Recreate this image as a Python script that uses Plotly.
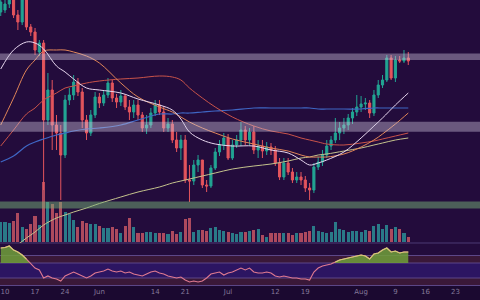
import plotly.graph_objects as go
import pandas as pd

# ---------------- data ----------------
dates = pd.date_range("2021-05-09", "2021-08-12", freq="D")

opens = [3480, 3500, 3560, 3650, 3450, 3380, 3600, 3330, 3280, 3080, 3170, 2400, 2700, 2350, 2270, 2050,
         2600, 2650, 2780, 2680, 2400, 2270, 2450, 2630, 2570, 2650, 2770, 2620, 2580, 2640, 2530, 2480,
         2550, 2450, 2320, 2350, 2470, 2550, 2480, 2320, 2360, 2200, 2120, 2200, 1800, 1790, 1950, 2000,
         1750, 1740, 1920, 2080, 2150, 2220, 2020, 2150, 2200, 2300, 2200, 2280, 2100, 2140, 2090, 2130,
         2100, 1970, 1830, 1970, 1880, 1800, 1830, 1800, 1720, 1700, 1930, 1980, 2050, 2140, 2200, 2270,
         2320, 2350, 2420, 2480, 2530, 2560, 2570, 2470, 2650, 2750, 2800, 3020, 2820, 3000, 2990, 3020]
closes = [3580, 3560, 3650, 3450, 3380, 3600, 3330, 3280, 3100, 3170, 2400, 2700, 2350, 2270, 2050, 2600,
          2650, 2780, 2680, 2400, 2270, 2450, 2630, 2570, 2650, 2770, 2620, 2580, 2640, 2530, 2480, 2550,
          2450, 2320, 2350, 2470, 2550, 2480, 2320, 2360, 2200, 2120, 2200, 1800, 1790, 1950, 2000, 1750,
          1740, 1920, 2080, 2150, 2220, 2020, 2150, 2200, 2300, 2200, 2280, 2100, 2140, 2090, 2130, 2100,
          1970, 1830, 1970, 1880, 1800, 1830, 1800, 1720, 1700, 1930, 1980, 2050, 2140, 2200, 2270, 2320,
          2350, 2420, 2480, 2530, 2560, 2570, 2470, 2650, 2750, 2800, 3020, 2820, 3000, 2990, 3020, 2990]
highs = [3600, 3600, 3700, 3720, 3500, 3650, 3630, 3360, 3320, 3200, 3200, 2870, 2800, 2450, 2350, 2650,
         2720, 2850, 2820, 2720, 2450, 2500, 2680, 2670, 2700, 2820, 2800, 2660, 2700, 2660, 2600, 2600,
         2600, 2480, 2450, 2520, 2600, 2600, 2540, 2420, 2400, 2280, 2250, 2250, 1950, 2000, 2050, 2000,
         1800, 1950, 2120, 2200, 2270, 2260, 2200, 2250, 2380, 2340, 2320, 2340, 2200, 2200, 2180, 2170,
         2140, 2020, 2020, 2020, 1920, 1880, 1880, 1840, 1770, 1970, 2030, 2100, 2200, 2240, 2420, 2380,
         2420, 2460, 2520, 2650, 2640, 2620, 2600, 2700, 2800, 2850, 3050, 3050, 3040, 3040, 3100, 3080]
lows = [3440, 3470, 3520, 3420, 3300, 3350, 3300, 3240, 3050, 3040, 1700, 2350, 2100, 2100, 1600, 2020,
        2550, 2600, 2640, 2320, 2200, 2240, 2420, 2520, 2540, 2620, 2580, 2520, 2540, 2500, 2400, 2420,
        2400, 2280, 2260, 2320, 2440, 2450, 2280, 2280, 2170, 2080, 2000, 1770, 1580, 1750, 1880, 1720,
        1680, 1720, 1900, 2040, 2100, 2000, 2000, 2120, 2140, 2150, 2150, 2060, 2020, 2020, 2050, 2050,
        1940, 1800, 1800, 1850, 1770, 1770, 1750, 1680, 1600, 1670, 1900, 1940, 2020, 2100, 2170, 2200,
        2260, 2300, 2360, 2440, 2480, 2500, 2420, 2440, 2620, 2720, 2780, 2800, 2780, 2970, 2970, 2950]
volumes = [1000, 1000, 950, 1050, 1450, 750, 650, 900, 1300, 850, 3000, 2000, 1900, 1450, 2000, 1500,
           1400, 1100, 750, 1050, 950, 900, 900, 800, 700, 700, 750, 650, 450, 800, 1200, 750,
           450, 450, 500, 500, 450, 450, 450, 400, 550, 400, 500, 1150, 1200, 500, 600, 600,
           550, 700, 750, 600, 550, 500, 450, 400, 500, 500, 550, 600, 650, 350, 250, 450,
           450, 450, 450, 450, 350, 450, 450, 500, 550, 800, 550, 500, 450, 500, 1000, 650,
           600, 500, 550, 550, 500, 600, 550, 800, 900, 650, 850, 650, 750, 650, 450, 250]
rsi = [80.0, 80.7, 82.7, 77.3, 74.7, 70.7, 65.3, 58.7, 53.3, 50.7, 40.0, 42.7, 40.0, 38.7, 36.0, 42.7,
       45.3, 48.0, 45.3, 42.7, 40.0, 42.7, 46.7, 48.0, 49.3, 52.0, 49.3, 48.0, 49.3, 46.7, 48.0, 45.3,
       44.0, 42.7, 45.3, 48.0, 49.3, 46.7, 45.3, 42.7, 41.3, 40.0, 41.3, 37.3, 34.7, 36.0, 34.7, 36.0,
       40.0, 45.3, 46.7, 48.0, 44.0, 46.7, 48.0, 50.7, 53.3, 50.7, 53.3, 48.0, 46.7, 46.7, 48.0, 46.7,
       42.7, 41.3, 42.7, 41.3, 40.0, 40.0, 38.7, 38.7, 37.3, 48.0, 53.3, 56.0, 57.3, 58.7, 61.3, 64.0,
       65.3, 66.7, 68.0, 69.3, 70.7, 69.3, 65.3, 72.0, 73.3, 77.3, 80.0, 74.7, 76.0, 73.3, 74.7, 74.7]

ma_dates = ["2021-05-09", "2021-05-12", "2021-05-15", "2021-05-17", "2021-05-19", "2021-05-22",
            "2021-05-24", "2021-05-26", "2021-05-29", "2021-06-01", "2021-06-06", "2021-06-10",
            "2021-06-15", "2021-06-18", "2021-06-20", "2021-06-22", "2021-06-25", "2021-06-28",
            "2021-07-02", "2021-07-07", "2021-07-11", "2021-07-15", "2021-07-18", "2021-07-20",
            "2021-07-22", "2021-07-24", "2021-07-28", "2021-08-01", "2021-08-04", "2021-08-06",
            "2021-08-09", "2021-08-12"]
ma_fast = [2910, 3100, 3180, 3170, 3110, 2940, 2880, 2810, 2720, 2700, 2670, 2610, 2550, 2500, 2410, 2280,
           2200, 2160, 2140, 2140, 2100, 2070, 2000, 1950, 1970, 2000, 2080, 2220, 2340, 2420, 2550, 2670]
ma_mid = [2350, 2620, 2900, 3000, 3090, 3100, 3100, 3080, 3040, 2970, 2770, 2630, 2530, 2480, 2430, 2380,
          2320, 2270, 2210, 2160, 2120, 2090, 2050, 2030, 2030, 2030, 2060, 2130, 2200, 2260, 2360, 2470]
ma_slow = [2140, 2300, 2460, 2520, 2600, 2670, 2720, 2740, 2770, 2790, 2810, 2820, 2840, 2830, 2800, 2720,
           2620, 2530, 2430, 2340, 2290, 2260, 2220, 2200, 2180, 2160, 2150, 2170, 2190, 2210, 2240, 2270]
ma_blue = [1980, 2040, 2140, 2180, 2210, 2250, 2270, 2290, 2310, 2320, 2350, 2400, 2460, 2460, 2470, 2470,
           2480, 2490, 2500, 2520, 2520, 2520, 2520, 2520, 2510, 2510, 2510, 2510, 2520, 2520, 2520, 2520]
ma_long = [1020, 1120, 1220, 1280, 1350, 1420, 1450, 1480, 1520, 1565, 1630, 1680, 1730, 1770, 1790, 1810,
           1840, 1870, 1910, 1940, 1960, 1990, 2020, 2030, 2050, 2060, 2090, 2120, 2150, 2170, 2200, 2220]

zones_grey = [(3000, 3066), (2283, 2383)]
zone_green = (1515, 1585)
rsi_levels = [70, 60, 40, 30]

tick_vals = ["2021-05-10", "2021-05-17", "2021-05-24", "2021-06-01", "2021-06-14", "2021-06-21",
             "2021-07-01", "2021-07-12", "2021-07-19", "2021-08-01", "2021-08-09", "2021-08-16",
             "2021-08-23"]
tick_text = ["10", "17", "24", "Jun", "14", "21", "Jul", "12", "19", "Aug", "9", "16", "23"]

# ---------------- figure ----------------
UP, DOWN = "#22a493", "#e4555d"
VUP, VDOWN = "#2a7a88", "#ad4a5e"

fig = go.Figure()

vol_colors = [VUP if c >= o else VDOWN for o, c in zip(opens, closes)]
fig.add_trace(go.Bar(x=dates, y=volumes, marker=dict(color=vol_colors, line=dict(width=0)),
                     width=0.72 * 86400000, yaxis="y", xaxis="x", hoverinfo="skip"))

fig.add_trace(go.Scatter(x=ma_dates, y=ma_long, mode="lines", line=dict(color="#c4c28c", width=1, shape="spline"),
                         yaxis="y3", hoverinfo="skip"))
fig.add_trace(go.Scatter(x=ma_dates, y=ma_blue, mode="lines", line=dict(color="#3f66c4", width=1.2, shape="spline"),
                         yaxis="y3", hoverinfo="skip"))
fig.add_trace(go.Scatter(x=ma_dates, y=ma_slow, mode="lines", line=dict(color="#c9534a", width=1, shape="spline"),
                         yaxis="y3", hoverinfo="skip"))
fig.add_trace(go.Scatter(x=ma_dates, y=ma_mid, mode="lines", line=dict(color="#e08558", width=1, shape="spline"),
                         yaxis="y3", hoverinfo="skip"))
fig.add_trace(go.Scatter(x=ma_dates, y=ma_fast, mode="lines", line=dict(color="#e6d6ee", width=1, shape="spline"),
                         yaxis="y3", hoverinfo="skip"))

fig.add_trace(go.Candlestick(x=dates, open=opens, high=highs, low=lows, close=closes,
                             increasing=dict(line=dict(color=UP, width=1), fillcolor=UP),
                             decreasing=dict(line=dict(color=DOWN, width=1), fillcolor=DOWN),
                             whiskerwidth=0, yaxis="y3", hoverinfo="skip"))

# RSI pane
base60 = [60] * len(rsi)
above = [max(v, 60) for v in rsi]
fig.add_trace(go.Scatter(x=dates, y=base60, mode="lines", line=dict(width=0), yaxis="y2", hoverinfo="skip"))
fig.add_trace(go.Scatter(x=dates, y=above, mode="lines", line=dict(width=0), fill="tonexty",
                         fillcolor="rgba(112,160,58,0.85)", yaxis="y2", hoverinfo="skip"))
fig.add_trace(go.Scatter(x=dates, y=rsi, mode="lines", line=dict(color="#e07a90", width=1.1),
                         yaxis="y2", hoverinfo="skip"))
upper = [v if v >= 60 else None for v in rsi]
fig.add_trace(go.Scatter(x=dates, y=upper, mode="lines", line=dict(color="#cfd072", width=1.1),
                         yaxis="y2", hoverinfo="skip", connectgaps=False))

shapes = []
for y0, y1 in zones_grey:
    shapes.append(dict(type="rect", xref="paper", x0=0, x1=1, yref="y3", y0=y0, y1=y1,
                       fillcolor="rgba(205,195,220,0.42)", line=dict(width=0), layer="above"))
shapes.append(dict(type="rect", xref="paper", x0=0, x1=1, yref="y3", y0=zone_green[0], y1=zone_green[1],
                   fillcolor="rgba(118,178,118,0.5)", line=dict(width=0), layer="above"))
# RSI background bands
shapes.append(dict(type="rect", xref="paper", x0=0, x1=1, yref="y2", y0=60, y1=70,
                   fillcolor="#3a1838", line=dict(width=0), layer="below"))
shapes.append(dict(type="rect", xref="paper", x0=0, x1=1, yref="y2", y0=40, y1=60,
                   fillcolor="#2c1562", line=dict(width=0), layer="below"))
shapes.append(dict(type="rect", xref="paper", x0=0, x1=1, yref="y2", y0=30, y1=40,
                   fillcolor="#3a1838", line=dict(width=0), layer="below"))
for lv in rsi_levels:
    shapes.append(dict(type="line", xref="paper", x0=0, x1=1, yref="y2", y0=lv, y1=lv,
                       line=dict(color="#5d4788", width=1), layer="below"))
shapes.append(dict(type="line", xref="paper", x0=0, x1=1, yref="paper", y0=0.1503, y1=0.1503,
                   line=dict(color="#4d3a74", width=1), layer="below"))

fig.update_layout(
    width=480, height=300, margin=dict(l=0, r=0, t=0, b=14),
    paper_bgcolor="#1b0930", plot_bgcolor="#230c3c",
    showlegend=False, shapes=shapes, bargap=0,
    xaxis=dict(type="date", range=["2021-05-08 20:00", "2021-08-28 17:17"], anchor="y2",
               showgrid=False, zeroline=False, showline=False, ticks="",
               tickvals=tick_vals, ticktext=tick_text,
               tickfont=dict(size=7, color="#85799a", family="DejaVu Sans"),
               rangeslider=dict(visible=False), fixedrange=True),
    yaxis=dict(domain=[0.1503, 1], range=[-50, 12100], visible=False, fixedrange=True),
    yaxis3=dict(overlaying="y", anchor="x", range=[1170, 3600], visible=False, fixedrange=True),
    yaxis2=dict(domain=[0, 0.1503], range=[29.33, 86.67], visible=False, fixedrange=True),
)

fig.write_html("out.html")
